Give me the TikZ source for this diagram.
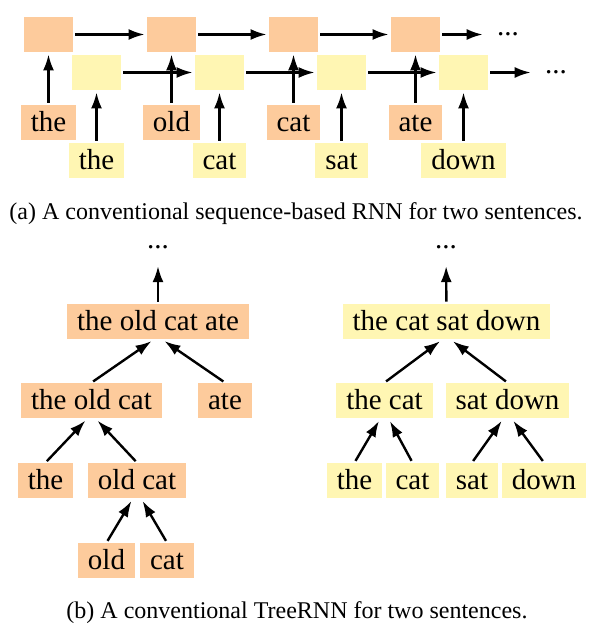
\documentclass[tikz,border=0pt]{standalone}
\usepackage{fontspec}
\setmainfont{Liberation Serif}
\usetikzlibrary{arrows.meta}
\definecolor{rnnorange}{RGB}{253,203,156}
\definecolor{rnnyellow}{RGB}{255,246,179}
\begin{document}
\begin{tikzpicture}[x=0.5pt,y=-0.5pt,>={Latex[length=8pt,width=5.5pt]},every node/.style={font=\fontsize{14.5}{17}\selectfont},
	word/.style={minimum height=17.5pt,inner xsep=5pt,inner ysep=3.2pt,text height=9.9pt,text depth=1.2pt},
	ow/.style={word,fill=rnnorange},yw/.style={word,fill=rnnyellow},
	cell/.style={minimum width=24.5pt,minimum height=17.5pt,inner sep=0pt},
	oc/.style={cell,fill=rnnorange},yc/.style={cell,fill=rnnyellow},
	dotsnode/.style={inner xsep=6pt,inner ysep=7.5pt},
	link/.style={->,line width=1.2pt,shorten <=1pt,shorten >=1pt},
	caption/.style={font=\fontsize{12}{14}\selectfont}]
	\useasboundingbox (0,0) rectangle (594,642);
	% (a) sequence RNN
	\node[oc] (ho1) at (48.5,34.5) {};
	\node[oc] (ho2) at (171.5,34.5) {};
	\node[oc] (ho3) at (293.5,34.5) {};
	\node[oc] (ho4) at (415.5,34.5) {};
	\node[dotsnode] (hodots) at (508,34.5) {...};
	\node[yc] (hy1) at (96.5,72.5) {};
	\node[yc] (hy2) at (219.5,72.5) {};
	\node[yc] (hy3) at (341.5,72.5) {};
	\node[yc] (hy4) at (463.5,72.5) {};
	\node[dotsnode] (hydots) at (556,72.5) {...};
	\node[ow] (wo1) at (48.5,122.5) {the};
	\node[ow] (wo2) at (171.5,122.5) {old};
	\node[ow] (wo3) at (293.5,122.5) {cat};
	\node[ow] (wo4) at (415.5,122.5) {ate};
	\node[yw] (wy1) at (96.5,160.5) {the};
	\node[yw] (wy2) at (219.5,160.5) {cat};
	\node[yw] (wy3) at (341.5,160.5) {sat};
	\node[yw] (wy4) at (463.5,160.5) {down};
	\draw[link] (ho1) -- (ho2);
	\draw[link] (ho2) -- (ho3);
	\draw[link] (ho3) -- (ho4);
	\draw[link] (ho4) -- (hodots);
	\draw[link] (hy1) -- (hy2);
	\draw[link] (hy2) -- (hy3);
	\draw[link] (hy3) -- (hy4);
	\draw[link] (hy4) -- (hydots);
	\draw[link] (wo1) -- (ho1);
	\draw[link] (wo2) -- (ho2);
	\draw[link] (wo3) -- (ho3);
	\draw[link] (wo4) -- (ho4);
	\draw[link] (wy1) -- (hy1);
	\draw[link] (wy2) -- (hy2);
	\draw[link] (wy3) -- (hy3);
	\draw[link] (wy4) -- (hy4);
	\node[caption] (capa) at (296,214) {(a) A conventional sequence-based RNN for two sentences.};
	% (b) TreeRNN, left sentence
	\node[dotsnode] (ldots) at (158,247) {...};
	\node[ow] (lroot) at (158,321.5) {the old cat ate};
	\node[ow] (lmid) at (91.5,400.5) {the old cat};
	\node[ow] (late) at (225,400.5) {ate};
	\node[ow] (lthe) at (45.5,480.5) {the};
	\node[ow] (loldcat) at (137,480.5) {old cat};
	\node[ow] (lold) at (106.5,560.5) {old};
	\node[ow] (lcat) at (167,560.5) {cat};
	\draw[link] (lroot) -- (ldots);
	\draw[link,shorten >=1.5pt] (lmid.north) -- ([xshift=-2pt]lroot.south);
	\draw[link,shorten >=1.5pt] (late.north) -- ([xshift=2pt]lroot.south);
	\draw[link,shorten >=1.5pt] (lthe.north) -- ([xshift=-2pt]lmid.south);
	\draw[link,shorten >=1.5pt] (loldcat.north) -- ([xshift=2pt]lmid.south);
	\draw[link,shorten >=1.5pt] (lold.north) -- ([xshift=-2pt]loldcat.south);
	\draw[link,shorten >=1.5pt] (lcat.north) -- ([xshift=2pt]loldcat.south);
	% right sentence
	\node[dotsnode] (rdots) at (446,247) {...};
	\node[yw] (rroot) at (446.5,321.5) {the cat sat down};
	\node[yw] (rthecat) at (384.5,400.5) {the cat};
	\node[yw] (rsatdown) at (507.5,400.5) {sat down};
	\node[yw] (rthe) at (354.5,480.5) {the};
	\node[yw] (rcat) at (412.5,480.5) {cat};
	\node[yw] (rsat) at (472,480.5) {sat};
	\node[yw] (rdown) at (544,480.5) {down};
	\draw[link] (rroot) -- (rdots);
	\draw[link,shorten >=1.5pt] (rthecat.north) -- ([xshift=-2pt]rroot.south);
	\draw[link,shorten >=1.5pt] (rsatdown.north) -- ([xshift=2pt]rroot.south);
	\draw[link,shorten >=1.5pt] (rthe.north) -- ([xshift=-2pt]rthecat.south);
	\draw[link,shorten >=1.5pt] (rcat.north) -- ([xshift=2pt]rthecat.south);
	\draw[link,shorten >=1.5pt] (rsat.north) -- ([xshift=-2pt]rsatdown.south);
	\draw[link,shorten >=1.5pt] (rdown.north) -- ([xshift=2pt]rsatdown.south);
	\node[caption] (capb) at (297,613) {(b) A conventional TreeRNN for two sentences.};
\end{tikzpicture}
\end{document}
